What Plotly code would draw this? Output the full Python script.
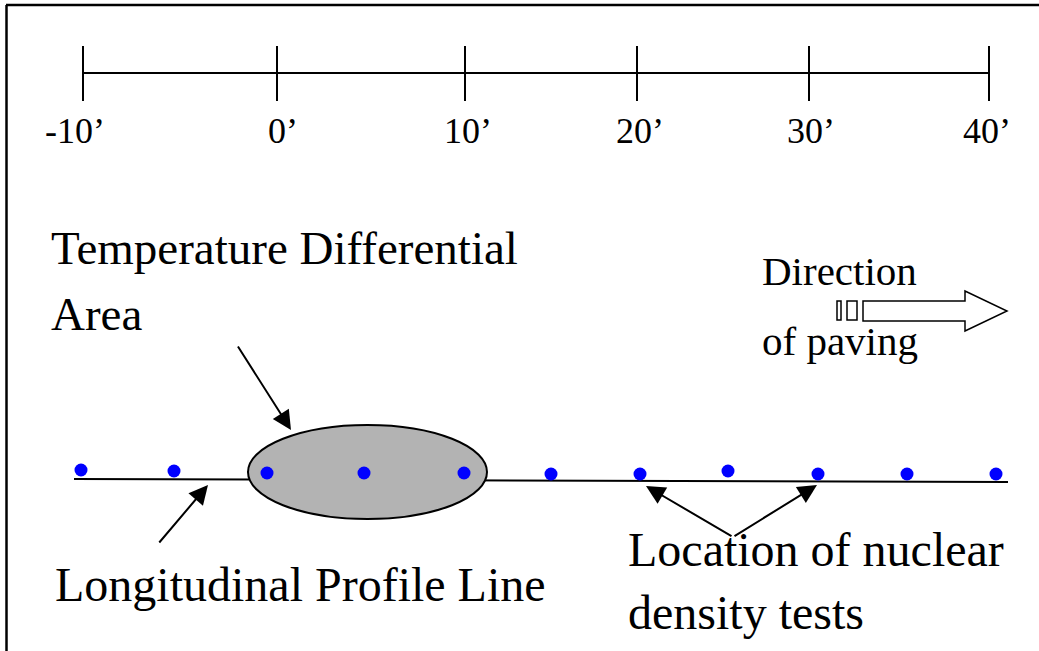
import plotly.graph_objects as go

# ---- data (pixel coordinate system of the sketch) ----
scale_labels = ["-10’", "0’", "10’", "20’", "30’", "40’"]
scale_tick_x = [83, 277, 465, 637, 809, 989]
scale_label_x = [75, 283, 468, 640, 811, 987]

test_x = [81, 174, 267, 364, 464, 551, 640, 728, 818, 907, 996]
test_y = [470, 471, 473, 473, 473, 474, 474, 471, 474, 474, 474]

profile_x = [74, 1008]
profile_y = [479, 482]

W, H = 1039, 651
FONT = "Liberation Serif, Times New Roman, serif"

fig = go.Figure()

# nuclear density test locations
fig.add_trace(go.Scatter(
    x=test_x, y=test_y, mode="markers",
    marker=dict(color="#0000FF", size=13, line=dict(width=0)),
    hoverinfo="skip", showlegend=False))

shapes = []
# frame (left and top edges visible)
shapes.append(dict(type="line", x0=6.5, x1=6.5, y0=5, y1=H, line=dict(color="black", width=2.5)))
shapes.append(dict(type="line", x0=6, x1=W, y0=5, y1=5, line=dict(color="black", width=2.5)))

# distance scale
shapes.append(dict(type="line", x0=scale_tick_x[0], x1=scale_tick_x[-1], y0=73, y1=73,
                   line=dict(color="black", width=2)))
for tx in scale_tick_x:
    shapes.append(dict(type="line", x0=tx, x1=tx, y0=46, y1=101, line=dict(color="black", width=2)))

# longitudinal profile line
shapes.append(dict(type="line", x0=profile_x[0], x1=profile_x[1], y0=profile_y[0], y1=profile_y[1],
                   line=dict(color="black", width=2), layer="below"))
# temperature differential area
shapes.append(dict(type="circle", x0=248, x1=487, y0=425, y1=519,
                   fillcolor="#b3b3b3", line=dict(color="black", width=2), layer="below"))

# direction of paving arrow
shapes.append(dict(type="rect", x0=837, x1=841, y0=301, y1=320,
                   fillcolor="white", line=dict(color="black", width=1.5)))
shapes.append(dict(type="rect", x0=847, x1=857, y0=301, y1=320,
                   fillcolor="white", line=dict(color="black", width=1.5)))
shapes.append(dict(type="path",
                   path="M 863 301 L 965 301 L 965 291 L 1007 311 L 965 331 L 965 321 L 863 321 Z",
                   fillcolor="white", line=dict(color="black", width=1.5)))

ann = []
for lab, lx in zip(scale_labels, scale_label_x):
    ann.append(dict(x=lx, y=131, text=lab, showarrow=False, xanchor="center", yanchor="middle",
                    font=dict(family=FONT, size=36, color="black")))

def txt(x, y, s, size):
    ann.append(dict(x=x, y=y, text=s, showarrow=False, xanchor="left", yanchor="middle",
                    font=dict(family=FONT, size=size, color="black")))

txt(49, 248, "Temperature Differential", 47)
txt(49, 314, "Area", 47)
txt(760, 271, "Direction", 41)
txt(760, 341, "of paving", 41)
txt(53, 584, "Longitudinal Profile Line", 48)
txt(626, 549, "Location of nuclear", 48)
txt(626, 612, "density tests", 48)

def arrow(x0, y0, x1, y1):
    ann.append(dict(x=x1, y=y1, ax=x0, ay=y0, xref="x", yref="y", axref="x", ayref="y",
                    text="", showarrow=True, arrowhead=2, arrowsize=1.9, arrowwidth=2,
                    arrowcolor="black", standoff=0, startstandoff=0))

arrow(237, 345, 291, 430)
arrow(158, 544, 208, 485)
arrow(733, 537, 646, 486)
arrow(733, 537, 817, 485)

fig.update_layout(
    width=W, height=H, autosize=False,
    margin=dict(l=0, r=0, t=0, b=0, pad=0),
    paper_bgcolor="white", plot_bgcolor="white",
    xaxis=dict(range=[0, W], visible=False, fixedrange=True),
    yaxis=dict(range=[H, 0], visible=False, fixedrange=True),
    shapes=shapes, annotations=ann, showlegend=False,
)

fig.write_html("out.html", config={"displayModeBar": False},
               post_script="document.body.style.margin='0';")
